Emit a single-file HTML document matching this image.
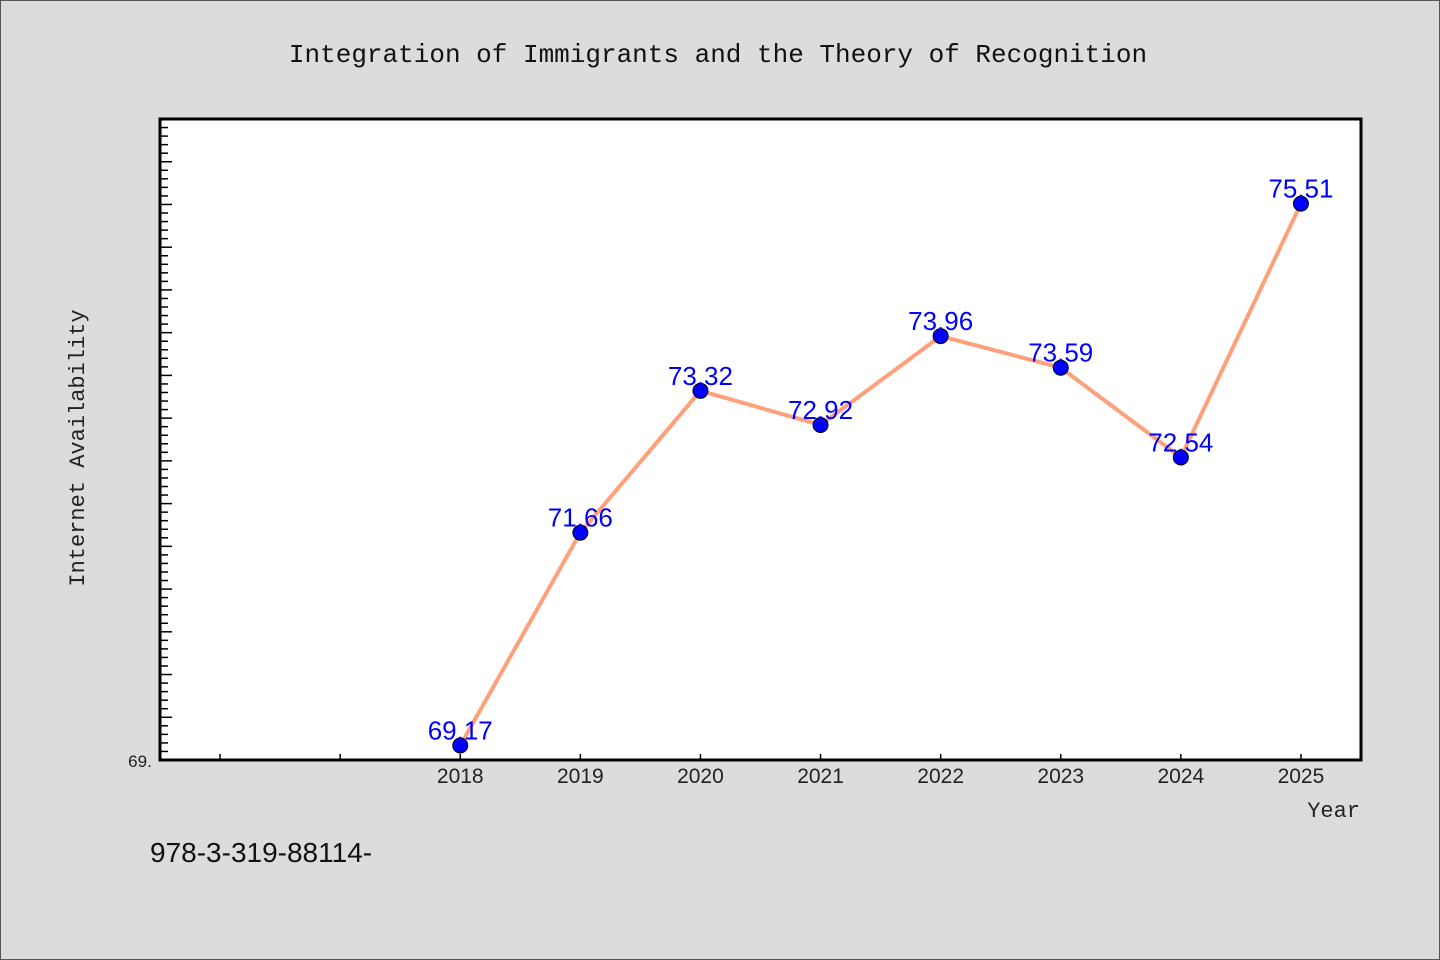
<!DOCTYPE html>
<html><head><meta charset="utf-8"><style>
html,body{margin:0;padding:0;background:#dcdcdc;}
svg{display:block;}
</style></head><body>
<svg width="1440" height="960" xmlns="http://www.w3.org/2000/svg">
<rect x="0.5" y="0.5" width="1439" height="959" fill="#dcdcdc" stroke="#555"/>
<text x="718" y="62" text-anchor="middle" font-family="Liberation Mono, monospace" font-size="26" fill="#111">Integration of Immigrants and the Theory of Recognition</text>
<rect x="160" y="119" width="1201" height="641" fill="#fff"/>
<g id="ticks"></g>
<g id="series"></g>
<rect x="160" y="119" width="1201" height="641" fill="none" stroke="#000" stroke-width="3"/>
<text x="140" y="767" text-anchor="middle" font-family="Liberation Sans, sans-serif" font-size="17" fill="#222">69.</text>
<text x="84" y="448" text-anchor="middle" transform="rotate(-90 84 448)" font-family="Liberation Mono, monospace" font-size="22" fill="#222">Internet Availability</text>
<text x="1360" y="817" text-anchor="end" font-family="Liberation Mono, monospace" font-size="22" fill="#222">Year</text>
<text x="150" y="862" font-family="Liberation Sans, sans-serif" font-size="28" fill="#111">978-3-319-88114-</text>
</svg>
<script>
const years = [2018,2019,2020,2021,2022,2023,2024,2025];
const values = [69.17,71.66,73.32,72.92,73.96,73.59,72.54,75.51];
const valueLabels = ["69.17","71.66","73.32","72.92","73.96","73.59","72.54","75.51"];
const xMin=2015.5,xMax=2025.5,yMin=69,yMax=76.5;
const L=160,R=1361,T=119,B=760;
const xs=v=>L+(v-xMin)/(xMax-xMin)*(R-L);
const ys=v=>B-(v-yMin)/(yMax-yMin)*(B-T);
const NS="http://www.w3.org/2000/svg";
const tg=document.getElementById('ticks'), sg=document.getElementById('series');
for(let i=1;i<75;i++){
  const v=yMin+i*0.1, y=ys(v), major=(i%5===0);
  const ln=document.createElementNS(NS,'line');
  ln.setAttribute('x1',L);ln.setAttribute('x2',L+(major?12:8));
  ln.setAttribute('y1',y);ln.setAttribute('y2',y);
  ln.setAttribute('stroke','#000');ln.setAttribute('stroke-width','1.5');
  
  
  tg.appendChild(ln);
}
for(let yr=2016;yr<=2025;yr++){
  const x=xs(yr);
  const ln=document.createElementNS(NS,'line');
  ln.setAttribute('x1',x);ln.setAttribute('x2',x);
  ln.setAttribute('y1',B);ln.setAttribute('y2',B-6);
  ln.setAttribute('stroke','#000');ln.setAttribute('stroke-width','1.5');
  
  
  tg.appendChild(ln);
}
years.forEach(yr=>{
  const t=document.createElementNS(NS,'text');
  t.setAttribute('x',xs(yr));t.setAttribute('y',783);
  t.setAttribute('text-anchor','middle');
  t.setAttribute('font-family','Liberation Sans, sans-serif');
  t.setAttribute('font-size','21');t.setAttribute('fill','#222');
  
  
  t.textContent=yr;
  tg.appendChild(t);
});
const pl=document.createElementNS(NS,'polyline');
pl.setAttribute('points',years.map((yr,i)=>xs(yr)+','+ys(values[i])).join(' '));
pl.setAttribute('fill','none');pl.setAttribute('stroke','#ffa07a');pl.setAttribute('stroke-width','4');


sg.appendChild(pl);
years.forEach((yr,i)=>{
  const c=document.createElementNS(NS,'circle');
  c.setAttribute('cx',xs(yr));c.setAttribute('cy',ys(values[i]));c.setAttribute('r','7.5');
  c.setAttribute('fill','#0000ff');c.setAttribute('stroke','#000');c.setAttribute('stroke-width','1');
  
  
  sg.appendChild(c);
  const t=document.createElementNS(NS,'text');
  t.setAttribute('x',xs(yr));t.setAttribute('y',ys(values[i])-6);
  t.setAttribute('text-anchor','middle');
  t.setAttribute('font-family','Liberation Sans, sans-serif');
  t.setAttribute('font-size','26');t.setAttribute('fill','#0000ff');
  
  
  t.textContent=valueLabels[i];
  sg.appendChild(t);
});
</script>
</body></html>
